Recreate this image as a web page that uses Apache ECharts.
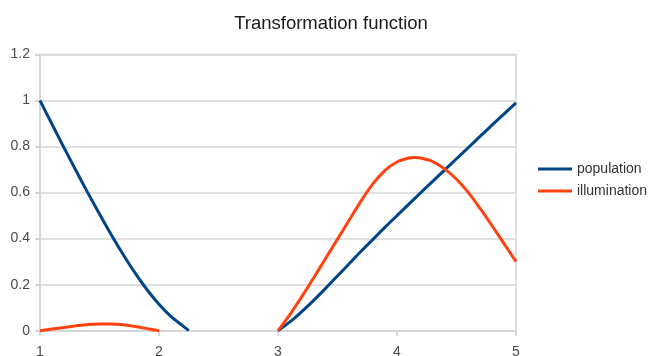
<!DOCTYPE html>
<html>
<head>
<meta charset="utf-8">
<script src="https://cdn.jsdelivr.net/npm/echarts@6/dist/echarts.min.js"></script>
<style>
  html, body { margin: 0; padding: 0; background: #ffffff; }
  #chart { width: 649px; height: 356px; }
</style>
</head>
<body>
<div id="chart"></div>
<script>
// Transformation function curves, two segments each (gap between 2.25 and 3)
const titleText = 'Transformation function';
const seriesNames = ['population', 'illumination'];

const popX1 = [1.0, 1.1, 1.2, 1.3, 1.4, 1.5, 1.6, 1.7, 1.8, 1.9, 2.0, 2.1, 2.2, 2.25];
const popY1 = [1.0, 0.898, 0.797, 0.698, 0.601, 0.507, 0.416, 0.33, 0.25, 0.178, 0.115, 0.062, 0.021, 0.0];
const popX2 = [3.0, 3.1, 3.2, 3.3, 3.4, 3.5, 3.6, 3.7, 3.8, 3.9, 4.0, 4.1, 4.2, 4.3, 4.4, 4.5, 4.6, 4.7, 4.8, 4.9, 5.0];
const popY2 = [0.0, 0.038, 0.083, 0.132, 0.184, 0.238, 0.292, 0.346, 0.398, 0.45, 0.5, 0.55, 0.6, 0.649, 0.698, 0.747, 0.796, 0.845, 0.894, 0.942, 0.99];

const illX1 = [1.0, 1.1, 1.2, 1.3, 1.4, 1.5, 1.6, 1.7, 1.8, 1.9, 2.0];
const illY1 = [0.0, 0.007, 0.014, 0.021, 0.027, 0.029, 0.029, 0.026, 0.018, 0.009, 0.0];
const illX2 = [3.0, 3.1, 3.2, 3.3, 3.4, 3.5, 3.6, 3.7, 3.8, 3.9, 4.0, 4.1, 4.15, 4.2, 4.3, 4.4, 4.5, 4.6, 4.7, 4.8, 4.9, 5.0];
const illY2 = [0.0, 0.07, 0.148, 0.23, 0.314, 0.398, 0.482, 0.565, 0.64, 0.697, 0.733, 0.75, 0.752, 0.75, 0.735, 0.703, 0.658, 0.6, 0.53, 0.455, 0.378, 0.3];

const xTicks = [1, 2, 3, 4, 5];
const yTicks = [0, 0.2, 0.4, 0.6, 0.8, 1, 1.2];

// join two segments with a break point so the line is not drawn across the gap
function segments(xa, ya, xb, yb) {
  const out = xa.map((x, i) => [x, ya[i]]);
  out.push([(xa[xa.length - 1] + xb[0]) / 2, '-']);
  xb.forEach((x, i) => out.push([x, yb[i]]));
  return out;
}

const chart = echarts.init(document.getElementById('chart'), null, { renderer: 'canvas' });
const gridColor = '#d6d6d6';
const labelFont = { fontFamily: 'Liberation Sans', fontSize: 14, color: '#4a4a4a' };

chart.setOption({
  animation: false,
  backgroundColor: '#ffffff',
  title: {
    text: titleText,
    left: 326,
    top: 9,
    textAlign: 'center',
    textStyle: { fontFamily: 'Liberation Sans', fontSize: 18.5, fontWeight: 'normal', color: '#1a1a1a' }
  },
  legend: {
    orient: 'vertical',
    left: 538,
    top: 162,
    padding: 0,
    itemWidth: 34,
    itemHeight: 3,
    itemGap: 8,
    icon: 'rect',
    data: seriesNames,
    textStyle: { fontFamily: 'Liberation Sans', fontSize: 14, lineHeight: 14, color: '#333333' }
  },
  grid: {
    left: 40, right: 133, top: 54.5, bottom: 25.3,
    outerBoundsMode: 'none',
    containLabel: false,
    show: true, borderColor: gridColor, borderWidth: 1.5, backgroundColor: 'transparent'
  },
  xAxis: {
    type: 'value',
    min: xTicks[0], max: xTicks[xTicks.length - 1], interval: 1,
    axisLine: { show: true, lineStyle: { color: gridColor, width: 1.5 } },
    axisTick: { show: true, length: 5, lineStyle: { color: '#c8c8c8', width: 1.5 } },
    splitLine: { show: false },
    axisLabel: Object.assign({ margin: 14 }, labelFont)
  },
  yAxis: {
    type: 'value',
    min: yTicks[0], max: yTicks[yTicks.length - 1], interval: 0.2,
    axisLine: { show: true, lineStyle: { color: gridColor, width: 1.5 } },
    axisTick: { show: true, length: 5, lineStyle: { color: '#c8c8c8', width: 1.5 } },
    splitLine: { show: true, lineStyle: { color: gridColor, width: 1.5 } },
    axisLabel: Object.assign({ margin: 10 }, labelFont)
  },
  series: [
    {
      name: seriesNames[0],
      type: 'line',
      smooth: 0.3,
      showSymbol: false,
      connectNulls: false,
      lineStyle: { color: '#004586', width: 3 },
      itemStyle: { color: '#004586' },
      data: segments(popX1, popY1, popX2, popY2)
    },
    {
      name: seriesNames[1],
      type: 'line',
      smooth: 0.3,
      showSymbol: false,
      connectNulls: false,
      lineStyle: { color: '#ff420e', width: 3 },
      itemStyle: { color: '#ff420e' },
      data: segments(illX1, illY1, illX2, illY2)
    }
  ]
});
</script>
</body>
</html>
